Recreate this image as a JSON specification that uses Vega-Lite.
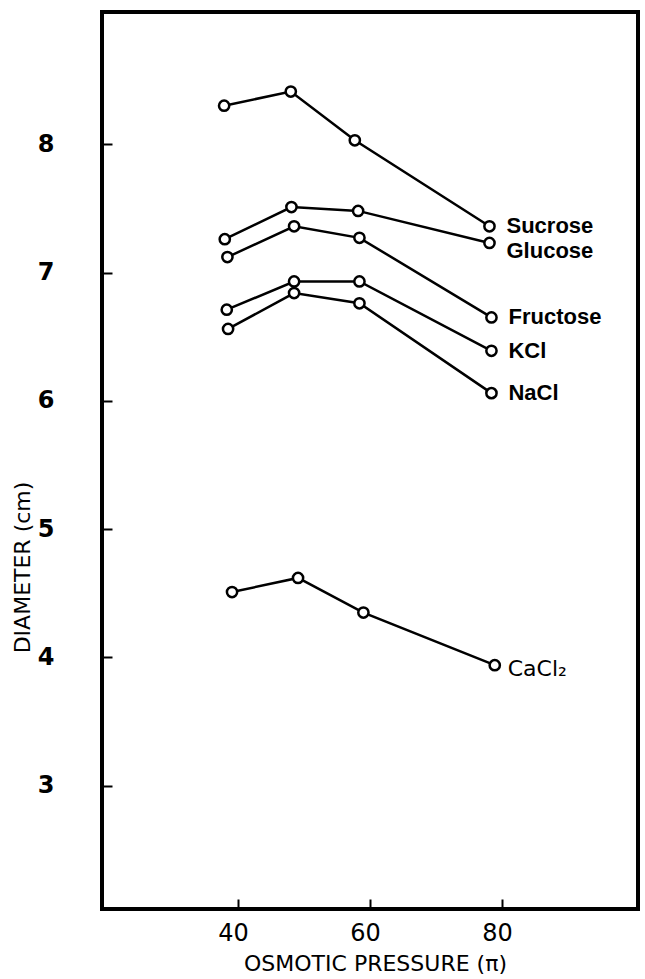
{
  "$schema": "https://vega.github.io/schema/vega-lite/v6.json",
  "width": 536,
  "height": 897,
  "autosize": {"type": "none"},
  "padding": {"left": 102, "top": 12, "right": 7, "bottom": 70},
  "background": "white",
  "config": {"view": {"stroke": "black", "strokeWidth": 4}},
  "data": {
    "values": [
      {"series": "Sucrose", "pressure": 37.9, "diameter": 8.30},
      {"series": "Sucrose", "pressure": 48.0, "diameter": 8.41},
      {"series": "Sucrose", "pressure": 57.7, "diameter": 8.03},
      {"series": "Sucrose", "pressure": 78.1, "diameter": 7.36},
      {"series": "Glucose", "pressure": 38.0, "diameter": 7.26},
      {"series": "Glucose", "pressure": 48.1, "diameter": 7.51},
      {"series": "Glucose", "pressure": 58.2, "diameter": 7.48},
      {"series": "Glucose", "pressure": 78.1, "diameter": 7.23},
      {"series": "Fructose", "pressure": 38.4, "diameter": 7.12},
      {"series": "Fructose", "pressure": 48.5, "diameter": 7.36},
      {"series": "Fructose", "pressure": 58.4, "diameter": 7.27},
      {"series": "Fructose", "pressure": 78.4, "diameter": 6.65},
      {"series": "KCl", "pressure": 38.3, "diameter": 6.71},
      {"series": "KCl", "pressure": 48.5, "diameter": 6.93},
      {"series": "KCl", "pressure": 58.4, "diameter": 6.93},
      {"series": "KCl", "pressure": 78.4, "diameter": 6.39},
      {"series": "NaCl", "pressure": 38.5, "diameter": 6.56},
      {"series": "NaCl", "pressure": 48.5, "diameter": 6.84},
      {"series": "NaCl", "pressure": 58.4, "diameter": 6.76},
      {"series": "NaCl", "pressure": 78.4, "diameter": 6.06},
      {"series": "CaCl₂", "pressure": 39.1, "diameter": 4.51},
      {"series": "CaCl₂", "pressure": 49.1, "diameter": 4.62},
      {"series": "CaCl₂", "pressure": 59.0, "diameter": 4.35},
      {"series": "CaCl₂", "pressure": 78.9, "diameter": 3.94}
    ]
  },
  "encoding": {
    "x": {
      "field": "pressure",
      "type": "quantitative",
      "scale": {"domain": [19.4, 100.6], "nice": false, "zero": false},
      "axis": {
        "values": [40, 60, 80],
        "domain": false,
        "grid": false,
        "tickSize": -10,
        "tickWidth": 2,
        "tickColor": "black",
        "labelFont": "DejaVu Sans",
        "labelFontSize": 24,
        "labelColor": "black",
        "labelPadding": 22,
        "labelOffset": -5,
        "labelBaseline": "top",
        "title": "OSMOTIC PRESSURE (π)",
        "titleFont": "DejaVu Sans",
        "titleFontSize": 22,
        "titleFontWeight": "normal",
        "titleColor": "black",
        "titleX": 273,
        "titleY": 54,
        "titleAlign": "center",
        "titleBaseline": "middle"
      }
    },
    "y": {
      "field": "diameter",
      "type": "quantitative",
      "scale": {"domain": [2.04, 9.03], "nice": false, "zero": false},
      "axis": {
        "values": [3, 4, 5, 6, 7, 8],
        "domain": false,
        "grid": false,
        "tickSize": -10,
        "tickWidth": 2,
        "tickColor": "black",
        "labelFont": "DejaVu Sans",
        "labelFontSize": 24,
        "labelFontWeight": "bold",
        "labelColor": "black",
        "labelPadding": 58,
        "title": "DIAMETER (cm)",
        "titleFont": "DejaVu Sans",
        "titleFontSize": 22,
        "titleFontWeight": "normal",
        "titleColor": "black",
        "titleAngle": -90,
        "titleX": -80,
        "titleY": 555,
        "titleAlign": "center",
        "titleBaseline": "middle"
      }
    }
  },
  "layer": [
    {
      "mark": {"type": "line", "color": "black", "strokeWidth": 2.5},
      "encoding": {"detail": {"field": "series", "type": "nominal"}}
    },
    {
      "mark": {"type": "point", "shape": "circle", "filled": false, "fill": "white", "fillOpacity": 1, "stroke": "black", "strokeWidth": 2.5, "size": 105, "opacity": 1}
    },
    {
      "transform": [
        {"joinaggregate": [{"op": "max", "field": "pressure", "as": "maxp"}], "groupby": ["series"]},
        {"filter": "datum.pressure === datum.maxp && (datum.series === 'Sucrose' || datum.series === 'Fructose' || datum.series === 'KCl' || datum.series === 'NaCl')"}
      ],
      "mark": {"type": "text", "align": "left", "baseline": "middle", "dx": 17, "dy": 0, "font": "Liberation Sans", "fontWeight": "bold", "fontSize": 22, "color": "black"},
      "encoding": {"text": {"field": "series", "type": "nominal"}}
    },
    {
      "transform": [
        {"joinaggregate": [{"op": "max", "field": "pressure", "as": "maxp"}], "groupby": ["series"]},
        {"filter": "datum.pressure === datum.maxp && datum.series === 'Glucose'"}
      ],
      "mark": {"type": "text", "align": "left", "baseline": "middle", "dx": 17, "dy": 8, "font": "Liberation Sans", "fontWeight": "bold", "fontSize": 22, "color": "black"},
      "encoding": {"text": {"field": "series", "type": "nominal"}}
    },
    {
      "transform": [
        {"joinaggregate": [{"op": "max", "field": "pressure", "as": "maxp"}], "groupby": ["series"]},
        {"filter": "datum.pressure === datum.maxp && datum.series === 'CaCl₂'"}
      ],
      "mark": {"type": "text", "align": "left", "baseline": "middle", "dx": 13, "dy": 4, "font": "DejaVu Sans", "fontWeight": "normal", "fontSize": 22, "color": "black"},
      "encoding": {"text": {"field": "series", "type": "nominal"}}
    }
  ]
}
